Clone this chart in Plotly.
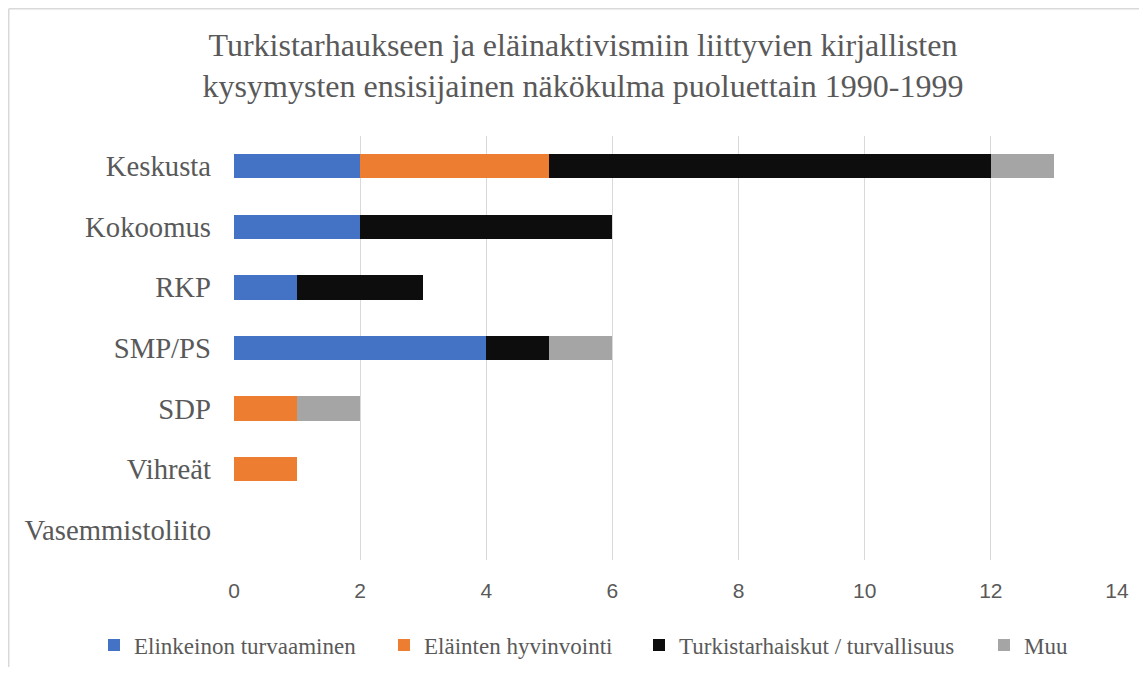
import plotly.graph_objects as go

categories = ["Keskusta", "Kokoomus", "RKP", "SMP/PS", "SDP", "Vihreät", "Vasemmistoliito"]
series_names = ["Elinkeinon turvaaminen", "Eläinten hyvinvointi",
                "Turkistarhaiskut / turvallisuus", "Muu"]
elinkeino = [2, 2, 1, 4, 0, 0, 0]
elainten = [3, 0, 0, 0, 1, 1, 0]
turkis = [7, 4, 2, 1, 0, 0, 0]
muu = [1, 0, 0, 1, 1, 0, 0]
colors = ["#4472C4", "#ED7D31", "#0D0D0D", "#A5A5A5"]
legend_widths = [245, 210, 300, None]
x_ticks = [0, 2, 4, 6, 8, 10, 12, 14]
title_text = ("Turkistarhaukseen ja eläinaktivismiin liittyvien kirjallisten<br>"
              "kysymysten ensisijainen näkökulma puoluettain 1990-1999")

serif = "Liberation Serif, Times New Roman, serif"
sans = "Liberation Sans, Arial, sans-serif"
gray_text = "#595959"

# page body has an 8px margin; figure is sized to fit inside the window
W, H = 1131, 659
L, R, T, B = 226, 1109, 128, 552   # plot area in figure pixels

fig = go.Figure()
for name, vals, col, lw in zip(series_names, [elinkeino, elainten, turkis, muu],
                               colors, legend_widths):
    kw = dict(legendwidth=lw) if lw else {}
    fig.add_trace(go.Bar(
        y=categories, x=vals, name=name, orientation="h",
        marker=dict(color=col, line=dict(width=0)), **kw
    ))

px2x = lambda p: (p - L) / (R - L)
px2y = lambda p: (B - p) / (B - T)

fig.update_layout(
    barmode="stack",
    bargap=0.6,
    width=W, height=H,
    margin=dict(l=L, r=W - R, t=T, b=H - B, autoexpand=False),
    paper_bgcolor="white", plot_bgcolor="white",
    title=dict(text=title_text, x=575 / W, xanchor="center",
               y=1 - 47.5 / H, yanchor="top", yref="container",
               font=dict(family=serif, size=32, color=gray_text)),
    legend=dict(orientation="h", x=px2x(86), xanchor="left", xref="paper",
                y=px2y(637), yanchor="middle", yref="paper",
                bgcolor="rgba(0,0,0,0)",
                font=dict(family=serif, size=23, color=gray_text),
                traceorder="normal"),
    showlegend=True,
    xaxis=dict(range=[0, 14], tickvals=x_ticks, showgrid=True,
               gridcolor="#D9D9D9", gridwidth=1.3, zeroline=False,
               showline=False, ticks="",
               tickfont=dict(family=sans, size=21, color=gray_text),
               ticklabelstandoff=16),
    yaxis=dict(autorange="reversed", showgrid=False, zeroline=False,
               showline=False, ticks="",
               tickfont=dict(family=serif, size=28.7, color=gray_text),
               ticklabelstandoff=22),
    shapes=[
        dict(type="line", xref="paper", yref="paper",
             x0=px2x(0.75), x1=px2x(0.75), y0=px2y(0.75), y1=px2y(H + 50),
             line=dict(color="#D9D9D9", width=1.5)),
        dict(type="line", xref="paper", yref="paper",
             x0=px2x(0.75), x1=px2x(W + 50), y0=px2y(0.75), y1=px2y(0.75),
             line=dict(color="#D9D9D9", width=1.5)),
    ],
)

fig.write_html("out.html")
